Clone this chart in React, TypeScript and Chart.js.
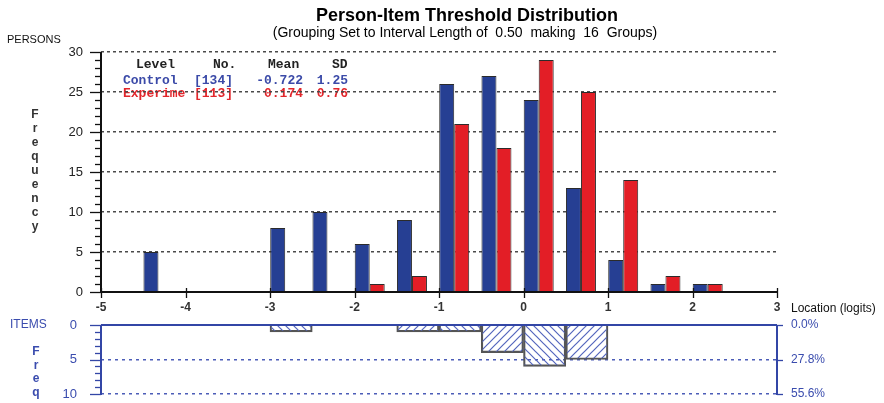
import React, { useEffect, useRef } from "react";
import { Chart, registerables } from "chart.js";

Chart.register(...registerables);

// ---------- data ----------
const binStarts = [-4.5, -4, -3.5, -3, -2.5, -2, -1.5, -1, -0.5, 0, 0.5, 1, 1.5, 2];
const controlCounts = [5, 0, 0, 8, 10, 6, 9, 26, 27, 24, 13, 4, 1, 1];
const experimentalCounts = [0, 0, 0, 0, 0, 1, 2, 21, 18, 29, 25, 14, 2, 1];
const itemCounts = [0, 0, 0, 1, 0, 0, 1, 1, 4, 6, 5, 0, 0, 0];
const statsHeader = ["Level", "No.", "Mean", "SD"];
const controlStats = ["Control", "[134]", "-0.722", "1.25"];
const experimentalStats = ["Experime", "[113]", "0.174", "0.76"];
const titleText = "Person-Item Threshold Distribution";
const subtitleText = "(Grouping Set to Interval Length of  0.50  making  16  Groups)";
const xAxisTitle = "Location (logits)";
const personsLabel = "PERSONS";
const itemsLabel = "ITEMS";
const freqWord = "Frequency";
const freqShort = "Freq";

// ---------- style ----------
const BIN_WIDTH = 0.5;
const PAIR_OFFSET = 0.18;
const BLUE = "#263f93";
const RED = "#e31e26";
const OUTLINE = "#2b2b2b";
const AXIS_BLUE = "#3346a6";
const TEXT_BLUE = "#3a4cae";
const SANS = "'Liberation Sans', Arial, sans-serif";
const MONO = "'Liberation Mono', 'Courier New', monospace";
const CLEAR = "rgba(0,0,0,0)";

function makeHatch(forward: boolean): CanvasPattern | string {
  const c = document.createElement("canvas");
  c.width = 8;
  c.height = 8;
  const g = c.getContext("2d");
  if (!g) return "#8899dd";
  g.strokeStyle = "#5466bd";
  g.lineWidth = 1.2;
  g.beginPath();
  if (forward) {
    g.moveTo(-2, 10); g.lineTo(10, -2);
    g.moveTo(-2, 2); g.lineTo(2, -2);
    g.moveTo(6, 10); g.lineTo(10, 6);
  } else {
    g.moveTo(-2, -2); g.lineTo(10, 10);
    g.moveTo(6, -2); g.lineTo(10, 2);
    g.moveTo(-2, 6); g.lineTo(2, 10);
  }
  g.stroke();
  return g.createPattern(c, "repeat") || "#8899dd";
}

function line(ctx: CanvasRenderingContext2D, x1: number, y1: number, x2: number, y2: number) {
  ctx.beginPath();
  ctx.moveTo(x1, y1);
  ctx.lineTo(x2, y2);
  ctx.stroke();
}

export default function App() {
  const topRef = useRef<HTMLCanvasElement | null>(null);
  const botRef = useRef<HTMLCanvasElement | null>(null);

  useEffect(() => {
    if (!topRef.current || !botRef.current) return;

    const topDecor = {
      id: "topDecor",
      beforeDraw(chart: any) {
        const ctx: CanvasRenderingContext2D = chart.ctx;
        const a = chart.chartArea;
        ctx.save();
        ctx.fillStyle = "#000";
        ctx.textAlign = "center";
        ctx.textBaseline = "middle";
        ctx.font = `bold 18px ${SANS}`;
        ctx.fillText(titleText, 467, 16);
        ctx.font = `14px ${SANS}`;
        ctx.fillText(subtitleText, 465, 33);
        ctx.textAlign = "left";
        ctx.font = `11px ${SANS}`;
        ctx.fillStyle = "#111";
        ctx.fillText(personsLabel, 7, 40);
        ctx.font = `bold 12px ${SANS}`;
        ctx.textAlign = "center";
        ctx.fillStyle = "#333";
        freqWord.split("").forEach((ch, i) => ctx.fillText(ch, 35, 115 + i * 14));
        ctx.textAlign = "left";
        ctx.font = `12px ${SANS}`;
        ctx.fillStyle = "#111";
        ctx.fillText(xAxisTitle, a.right + 14, 309);

        // stats table
        ctx.font = `bold 13px ${MONO}`;
        const rowY = [65, 81, 94];
        const leftCols = [123, 194];
        ctx.fillStyle = "#222";
        ctx.textAlign = "left";
        ctx.fillText(statsHeader[0], 136, rowY[0]);
        ctx.fillText(statsHeader[1], 213, rowY[0]);
        ctx.fillText(statsHeader[2], 268, rowY[0]);
        ctx.fillText(statsHeader[3], 332, rowY[0]);
        const rows = [controlStats, experimentalStats];
        const colors = ["#3b4aa8", "#e2262b"];
        rows.forEach((r, k) => {
          ctx.fillStyle = colors[k];
          ctx.textAlign = "left";
          ctx.fillText(r[0], leftCols[0], rowY[k + 1]);
          ctx.fillText(r[1], leftCols[1], rowY[k + 1]);
          ctx.textAlign = "right";
          ctx.fillText(r[2], 303, rowY[k + 1]);
          ctx.fillText(r[3], 348, rowY[k + 1]);
        });
        ctx.restore();
      },
      afterDraw(chart: any) {
        const ctx: CanvasRenderingContext2D = chart.ctx;
        const a = chart.chartArea;
        const x = chart.scales.x;
        const y = chart.scales.y;
        ctx.save();
        ctx.strokeStyle = "#111";
        ctx.lineWidth = 1.3;
        for (let v = 0; v <= 30; v++) {
          const py = Math.round(y.getPixelForValue(v)) + 0.5;
          const len = v % 5 === 0 ? 11 : 6;
          line(ctx, a.left - len, py, a.left, py);
        }
        for (let v = -5; v <= 3; v++) {
          const px = Math.round(x.getPixelForValue(v)) + 0.5;
          line(ctx, px, a.bottom - 4, px, a.bottom + 6);
        }
        ctx.lineWidth = 2;
        line(ctx, a.left, y.getPixelForValue(30), a.left, a.bottom + 1);
        line(ctx, a.left, a.bottom, a.right, a.bottom);
        ctx.restore();
      },
    };

    const top = new Chart(topRef.current, {
      type: "bar",
      data: {
        datasets: [
          {
            label: controlStats[0],
            data: binStarts.map((b, i) => ({ x: b + PAIR_OFFSET, y: controlCounts[i] })),
            backgroundColor: BLUE,
            borderColor: OUTLINE,
            borderWidth: 1,
            categoryPercentage: 0.71,
            barPercentage: 1,
          },
          {
            label: experimentalStats[0],
            data: binStarts.map((b, i) => ({ x: b + PAIR_OFFSET, y: experimentalCounts[i] })),
            backgroundColor: RED,
            borderColor: OUTLINE,
            borderWidth: 1,
            categoryPercentage: 0.71,
            barPercentage: 1,
          },
        ],
      } as any,
      options: {
        animation: false,
        responsive: false,
        devicePixelRatio: 1,
        layout: { padding: { left: 8, right: 107, top: 52, bottom: 81 } },
        plugins: { legend: { display: false }, tooltip: { enabled: false }, title: { display: false } },
        scales: {
          x: {
            type: "linear",
            min: -5,
            max: 3,
            offset: false,
            ticks: { stepSize: 1, padding: 0, color: "#333", font: { family: SANS, size: 12, weight: "bold" }, maxRotation: 0, autoSkip: false },
            grid: { display: true, drawOnChartArea: false, drawTicks: true, tickLength: 8, tickColor: CLEAR, color: CLEAR, offset: false },
            border: { display: false },
            afterFit: (s: any) => { s.height = 30; },
          },
          y: {
            min: 0,
            max: 30,
            ticks: { stepSize: 5, padding: 0, color: "#222", font: { family: SANS, size: 13 } },
            grid: {
              drawTicks: true,
              tickLength: 18,
              tickColor: CLEAR,
              lineWidth: 1.5,
              color: (c: any) => (c.tick && c.tick.value === 0 ? CLEAR : "#4a4a4a"),
            },
            border: { display: false, dash: [3, 3] },
            afterFit: (s: any) => { s.width = 93; },
          },
        },
      } as any,
      plugins: [topDecor],
    });

    const hatchFwd = makeHatch(true);
    const hatchBack = makeHatch(false);
    const totalItems = itemCounts.reduce((s, v) => s + v, 0);

    const botDecor = {
      id: "botDecor",
      beforeDraw(chart: any) {
        const ctx: CanvasRenderingContext2D = chart.ctx;
        ctx.save();
        ctx.fillStyle = TEXT_BLUE;
        ctx.textBaseline = "middle";
        ctx.textAlign = "left";
        ctx.font = `12px ${SANS}`;
        ctx.fillText(itemsLabel, 10, 325);
        ctx.font = `bold 12px ${SANS}`;
        ctx.textAlign = "center";
        freqShort.split("").forEach((ch, i) => ctx.fillText(ch, 36, 352 + i * 13.5));
        ctx.restore();
      },
      afterDraw(chart: any) {
        const ctx: CanvasRenderingContext2D = chart.ctx;
        const a = chart.chartArea;
        const y = chart.scales.y;
        ctx.save();
        ctx.strokeStyle = AXIS_BLUE;
        ctx.lineWidth = 1.3;
        for (let v = 0; v <= 10; v++) {
          const py = Math.round(y.getPixelForValue(v)) + 0.5;
          const len = v % 5 === 0 ? 11 : 6;
          line(ctx, a.left - len, py, a.left, py);
          if (v % 5 === 0) line(ctx, a.right, py, a.right + 6, py);
        }
        ctx.lineWidth = 2;
        line(ctx, a.left, a.top, a.left, a.bottom + 1);
        line(ctx, a.right, a.top, a.right, a.bottom + 1);
        line(ctx, a.left, a.top, a.right, a.top);
        ctx.restore();
      },
    };

    const bot = new Chart(botRef.current, {
      type: "bar",
      data: {
        datasets: [
          {
            label: itemsLabel,
            data: binStarts.map((b, i) => ({ x: b + BIN_WIDTH / 2, y: itemCounts[i] === 0 ? null : itemCounts[i] })),
            backgroundColor: (c: any) => {
              const i = c.dataIndex ?? 0;
              const odd = Math.abs(Math.round(binStarts[i] / BIN_WIDTH)) % 2 === 1;
              return odd ? hatchFwd : hatchBack;
            },
            borderColor: "#555",
            borderWidth: 1.5,
            categoryPercentage: 1,
            barPercentage: 1,
          },
        ],
      } as any,
      options: {
        animation: false,
        responsive: false,
        devicePixelRatio: 1,
        layout: { padding: { left: 8, right: 7, top: 325, bottom: 9 } },
        plugins: { legend: { display: false }, tooltip: { enabled: false }, title: { display: false } },
        scales: {
          x: { type: "linear", min: -5, max: 3, offset: false, display: false, grid: { offset: false } },
          y: {
            min: 0,
            max: 10,
            reverse: true,
            ticks: { stepSize: 5, padding: 0, color: TEXT_BLUE, font: { family: SANS, size: 13 } },
            grid: {
              drawTicks: true,
              tickLength: 24,
              tickColor: CLEAR,
              lineWidth: 1.5,
              color: (c: any) => (c.tick && c.tick.value === 0 ? CLEAR : "#4c5db8"),
            },
            border: { display: false, dash: [3, 4] },
            afterFit: (s: any) => { s.width = 93; },
          },
          yR: {
            position: "right",
            min: 0,
            max: 10,
            reverse: true,
            ticks: {
              stepSize: 5,
              padding: 0,
              color: TEXT_BLUE,
              font: { family: SANS, size: 12 },
              callback: (v: any) => ((Number(v) / totalItems) * 100).toFixed(1) + "%",
            },
            grid: { drawOnChartArea: false, drawTicks: true, tickLength: 14, tickColor: CLEAR, color: CLEAR },
            border: { display: false },
            afterFit: (s: any) => { s.width = 100; },
          },
        },
      } as any,
      plugins: [botDecor],
    });

    return () => {
      top.destroy();
      bot.destroy();
    };
  }, []);

  return (
    <div style={{ position: "fixed", left: 0, top: 0, width: 884, height: 403, background: "#fff", overflow: "hidden" }}>
      <canvas ref={topRef} width={884} height={403} style={{ position: "absolute", left: 0, top: 0 }} />
      <canvas ref={botRef} width={884} height={403} style={{ position: "absolute", left: 0, top: 0 }} />
    </div>
  );
}
